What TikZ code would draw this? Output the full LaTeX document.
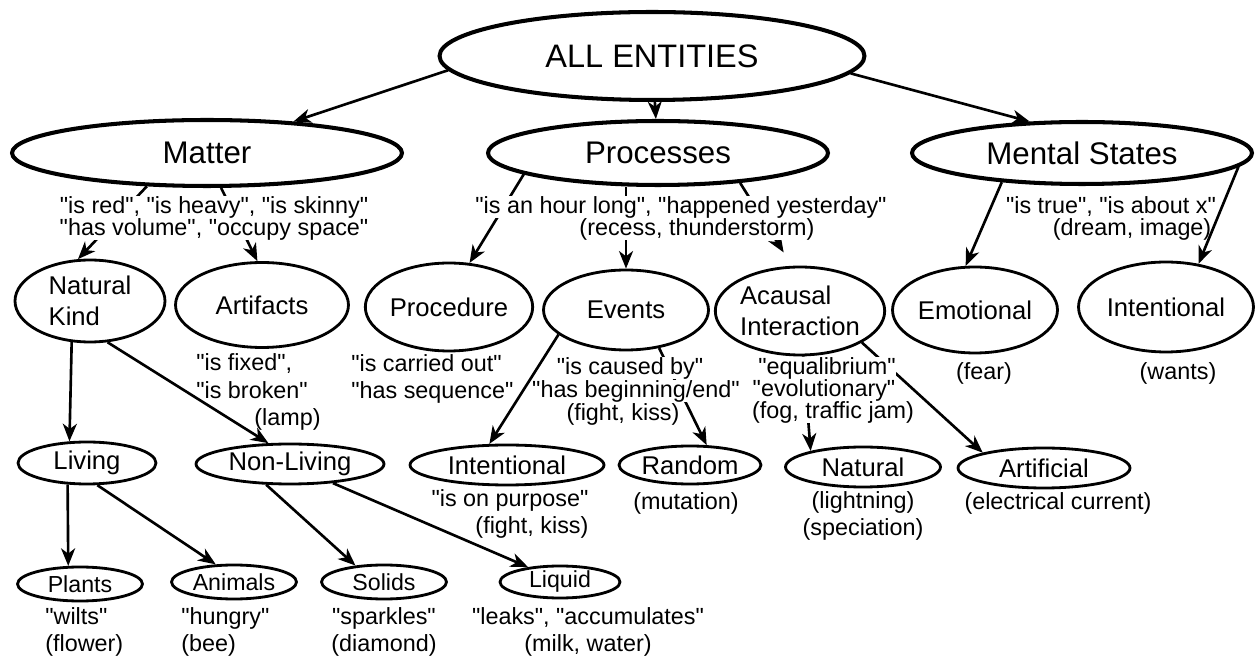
\documentclass[tikz,border=0pt]{standalone}
\usepackage{fontspec}
\setmainfont{Liberation Sans}[Ligatures=TeXOff]
\usetikzlibrary{shapes.geometric, arrows.meta, positioning, backgrounds}
\tikzset{
  topclass/.style={
    draw,
    ellipse,
    line width=2.3pt,
    inner sep=0pt,
    align=center,
    font=\fontsize{17.8}{20}\selectfont,
  },
  kind/.style={
    draw,
    ellipse,
    line width=1.6pt,
    inner sep=0pt,
    align=center,
    font=\fontsize{14.6}{18}\selectfont,
  },
  smallkind/.style={
    kind,
    font=\fontsize{13.2}{15}\selectfont,
  },
  note/.style={
    inner sep=0pt,
    align=center,
    font=\fontsize{13.3}{15.5}\selectfont,
  },
  masked/.style={
    note,
    fill=white
  },
  arrow/.style={
    -{Stealth[length=10pt, width=8pt, inset=3pt]},
    line width=1.5pt
  }
}

\begin{document}
\begin{tikzpicture}[x=0.02cm, y=-0.02cm]
\useasboundingbox (0,0) rectangle (1257,661);

% top
\node[topclass, font=\fontsize{18.5}{20}\selectfont, minimum width=8.5cm, minimum height=1.76cm] (all) at (652,56) {ALL ENTITIES};

% level 1
\node[topclass, minimum width=7.8cm, minimum height=1.32cm] (matter) at (207,153) {Matter};
\node[topclass, minimum width=6.8cm, minimum height=1.28cm] (proc) at (658,153) {Processes};
\node[topclass, minimum width=6.8cm, minimum height=1.24cm] (mental) at (1082,153) {Mental States};

\node[masked] (matterq) at (214,218) {"is red", "is heavy", "is skinny"\\[-3pt]"has volume", "occupy space"};
\node[masked] (procq2) at (697,229) {(recess, thunderstorm)};
\node[masked] (procq1) at (681,207) {"is an hour long", "happened yesterday"};
\node[note] (mentalq) at (1111,218) {"is true", "is about x"\\[-3pt]\hspace*{24pt}(dream, image)};

% level 2
\node[kind, align=left, minimum width=3cm, minimum height=1.64cm] (natkind) at (90,301) {Natural\\Kind};
\node[kind, minimum width=3.46cm, minimum height=1.7cm] (artif) at (262,305) {Artifacts};
\node[kind, minimum width=3.24cm, minimum height=1.76cm] (procd) at (449,307) {Procedure};
\node[kind, minimum width=3.3cm, minimum height=1.6cm] (events) at (626,310) {Events};
\node[kind, align=left, minimum width=3.34cm, minimum height=1.76cm] (acausal) at (800,311) {Acausal\\Interaction};
\node[kind, minimum width=3.3cm, minimum height=1.72cm] (emot) at (975,310) {Emotional};
\node[kind, minimum width=3.5cm, minimum height=1.8cm] (intent) at (1166,307) {Intentional};

\node[note, align=left, anchor=west] (artifq) at (196,392) {"is fixed",\\"is broken"\\\hspace*{33pt}(lamp)};
\node[note, align=left, anchor=west] (procdq) at (351,379) {"is carried out"\\"has sequence"};
\node[masked] (eventsq3) at (623,414) {(fight, kiss)};
\node[masked] (eventsq2) at (636,391) {"has beginning/end"};
\node[masked] (eventsq1) at (630,368) {"is caused by"};
\node[masked] (acausalq3) at (833,412) {(fog, traffic jam)};
\node[masked] (acausalq2) at (824,390) {"evolutionary"};
\node[masked] (acausalq1) at (827,368) {"equalibrium"};
\node[note] (emotq) at (984,373) {(fear)};
\node[note] (intentq) at (1178,373) {(wants)};

% level 3
\node[kind, minimum width=2.76cm, minimum height=0.84cm] (living) at (87,463) {Living};
\node[kind, minimum width=3.76cm, minimum height=0.8cm] (nonliv) at (290,464) {Non-Living};
\node[kind, minimum width=3.88cm, minimum height=0.8cm] (intentev) at (507,465) {Intentional};
\node[kind, minimum width=2.84cm, minimum height=0.76cm] (random) at (690,465) {Random};
\node[kind, minimum width=3.1cm, minimum height=0.8cm] (natural) at (863,467) {Natural};
\node[kind, minimum width=3.44cm, minimum height=0.8cm] (artfl) at (1044,468) {Artificial};

\node[note, align=right] (intentevq) at (510,514) {"is on purpose"\\(fight, kiss)};
\node[note] (randomq) at (686,503) {(mutation)};
\node[note] (naturalq) at (863,516) {(lightning)\\(speciation)};
\node[note] (artflq) at (1058,503) {(electrical current)};

% level 4
\node[smallkind, minimum width=2.5cm, minimum height=0.68cm] (plants) at (80,584) {Plants};
\node[smallkind, minimum width=2.5cm, minimum height=0.68cm] (animals) at (234,582) {Animals};
\node[smallkind, minimum width=2.5cm, minimum height=0.68cm] (solids) at (384,582) {Solids};
\node[smallkind, minimum width=2.4cm, minimum height=0.64cm] (liquid) at (560,582) {Liquid};

\node[note, align=left, anchor=west] (plantsq) at (45,632) {"wilts"\\(flower)};
\node[note, align=left, anchor=west] (animalsq) at (181,632) {"hungry"\\(bee)};
\node[note] (solidsq) at (384,632) {"sparkles"\\(diamond)};
\node[note] (liquidq) at (588,632) {"leaks", "accumulates"\\(milk, water)};

% connectors
\begin{scope}[on background layer]
\draw[arrow] (all.184) -- (matter.20);
\draw[arrow] (all) -- (proc);
\draw[arrow] (all.355) -- (mental.149);
\draw[arrow] (matter.209) -- (natkind.106);
\draw[arrow] (matter.292) -- (artif.96);
\draw[arrow] (proc.189) -- (procd.65);
\draw[arrow] (proc.south -| events.north) -- (events);
\draw[arrow, shorten >=9pt] (proc.340) -- (acausal.100);
\draw[arrow] (mental.200) -- (emot.102);
\draw[arrow] (mental.355) -- (intent.53);
\draw[arrow] (natkind.246) -- (living.129);
\draw[arrow] (natkind.293) -- (nonliv.136);
\draw[arrow] (events.200) -- (intentev.130);
\draw[arrow] (events.311) -- (random.50);
\draw[arrow] (acausal.274) -- (natural.163);
\draw[arrow] (acausal.333) -- (artfl.166);
\draw[arrow] (living.228) -- (plants.123);
\draw[arrow] (living.295) -- (animals.136);
\draw[arrow] (nonliv.221) -- (solids.150);
\draw[arrow] (nonliv.336) -- (liquid.155);
\end{scope}
\end{tikzpicture}
\end{document}
